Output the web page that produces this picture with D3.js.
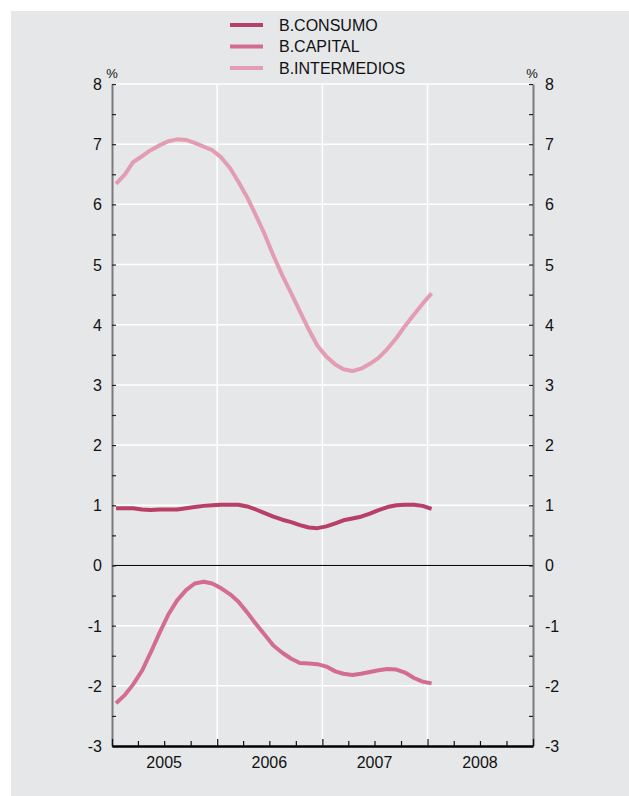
<!DOCTYPE html>
<html>
<head>
<meta charset="utf-8">
<script src="https://cdnjs.cloudflare.com/ajax/libs/d3/7.8.5/d3.min.js"></script>
<style>
  body { margin: 0; background: #ffffff; }
  text { font-family: "Liberation Sans", Arial, sans-serif; fill: #111; }
</style>
</head>
<body>
<script>
// data: monthly, Jan 2005 .. Jan 2008
var start_year = 2005;
var years = ["2005", "2006", "2007", "2008"];
var y_ticks = [8, 7, 6, 5, 4, 3, 2, 1, 0, -1, -2, -3];
var series_names = ["B.CONSUMO", "B.CAPITAL", "B.INTERMEDIOS"];
var series_colors = ["#b83f65", "#d36d90", "#e39db3"];

var consumo = [0.95, 0.95, 0.95, 0.93, 0.92, 0.93, 0.93, 0.93, 0.95, 0.97, 0.99, 1.00,
               1.01, 1.01, 1.01, 0.98, 0.93, 0.87, 0.81, 0.76, 0.72, 0.67, 0.63, 0.62,
               0.65, 0.70, 0.75, 0.78, 0.81, 0.86, 0.92, 0.97, 1.00, 1.01, 1.01, 0.99,
               0.94];
var capital = [-2.29, -2.15, -1.98, -1.75, -1.45, -1.12, -0.82, -0.58, -0.41, -0.30, -0.27, -0.30,
               -0.38, -0.48, -0.60, -0.78, -0.97, -1.15, -1.33, -1.45, -1.55, -1.62, -1.63, -1.64,
               -1.68, -1.76, -1.80, -1.82, -1.80, -1.77, -1.74, -1.72, -1.73, -1.78, -1.87, -1.93,
               -1.96];
var intermedios = [6.34, 6.50, 6.70, 6.80, 6.90, 6.98, 7.05, 7.08, 7.07, 7.02, 6.96, 6.90,
                   6.78, 6.60, 6.38, 6.12, 5.82, 5.50, 5.15, 4.82, 4.52, 4.22, 3.92, 3.65,
                   3.47, 3.34, 3.26, 3.23, 3.27, 3.35, 3.45, 3.60, 3.78, 3.98, 4.17, 4.35,
                   4.52];

var all_series = [consumo, capital, intermedios];

// SVG size:
var w_svg = 629;
var h_svg = 796;
// plot area (pixels)
var p_left = 112, p_right = 533, p_top = 84, p_bottom = 746;

var svg = d3.select("body").append("svg")
            .attr("width", w_svg)
            .attr("height", h_svg);

// background panel
svg.append("rect")
   .attr("x", 11).attr("y", 11)
   .attr("width", w_svg - 11).attr("height", h_svg - 11)
   .attr("fill", "#e6e7e9");

// scales
var xScale = d3.scaleTime()
               .domain([new Date(start_year, 0, 1), new Date(start_year + years.length, 0, 1)])
               .range([p_left, p_right]);
var yScale = d3.scaleLinear().domain([-3, 8]).range([p_bottom, p_top]);

// horizontal gridlines
svg.selectAll("line.hgrid")
   .data(y_ticks.filter(function(d) { return d > -3 && d != 0; }))
   .enter().append("line")
   .attr("x1", p_left).attr("x2", p_right)
   .attr("y1", function(d) { return yScale(d); })
   .attr("y2", function(d) { return yScale(d); })
   .attr("stroke", "#fff")
   .attr("stroke-width", 1.5);

// vertical gridlines at year boundaries
svg.selectAll("line.vgrid")
   .data(years.slice(1))
   .enter().append("line")
   .attr("x1", function(d) { return xScale(new Date(+d, 0, 1)); })
   .attr("x2", function(d) { return xScale(new Date(+d, 0, 1)); })
   .attr("y1", p_top).attr("y2", p_bottom)
   .attr("stroke", "#fff")
   .attr("stroke-width", 1.5);

// zero line
svg.append("line")
   .attr("x1", p_left).attr("x2", p_right)
   .attr("y1", yScale(0)).attr("y2", yScale(0))
   .attr("stroke", "#000").attr("stroke-width", 1);

// y axes (ticks every 0.5)
var half_ticks = d3.range(-3, 8.01, 0.5);
var y_left = d3.axisRight(yScale).tickValues(half_ticks).tickSize(4).tickSizeOuter(0).tickFormat("");
var g_left = svg.append("g").attr("transform", "translate(" + p_left + ",0)").call(y_left);
var y_right = d3.axisLeft(yScale).tickValues(half_ticks).tickSize(4).tickSizeOuter(0).tickFormat("");
var g_right = svg.append("g").attr("transform", "translate(" + p_right + ",0)").call(y_right);
[g_left, g_right].forEach(function(g) {
  g.select(".domain").attr("stroke", "#7a7a7a").attr("stroke-width", 2);
  g.selectAll(".tick line").attr("stroke", "#222").attr("stroke-width", 1.2);
});

// y tick labels
svg.selectAll("text.ylab_l")
   .data(y_ticks).enter().append("text")
   .attr("x", p_left - 10)
   .attr("y", function(d) { return yScale(d) + 6; })
   .attr("text-anchor", "end")
   .style("font-size", "16px")
   .text(function(d) { return d; });
svg.selectAll("text.ylab_r")
   .data(y_ticks).enter().append("text")
   .attr("x", p_right + 12)
   .attr("y", function(d) { return yScale(d) + 6; })
   .attr("text-anchor", "start")
   .style("font-size", "16px")
   .text(function(d) { return d; });

// % units
svg.append("text").attr("x", p_left).attr("y", p_top - 6)
   .attr("text-anchor", "middle").style("font-size", "13px").text("%");
svg.append("text").attr("x", p_right - 1).attr("y", p_top - 6)
   .attr("text-anchor", "middle").style("font-size", "13px").text("%");

// x axis: quarterly ticks, years bigger
var quarters = d3.timeMonth.range(new Date(start_year, 0, 1), new Date(start_year + years.length, 0, 2), 3);
var x_axis = d3.axisTop(xScale).tickValues(quarters).tickSize(5).tickSizeOuter(0).tickFormat("");
var g_x = svg.append("g").attr("transform", "translate(0," + p_bottom + ")").call(x_axis);
g_x.select(".domain").attr("stroke", "#000").attr("stroke-width", 2.5);
g_x.selectAll(".tick line")
   .attr("stroke", "#111")
   .attr("stroke-width", 1.2)
   .attr("y2", function(d) { return d.getMonth() == 0 ? -7 : -5; });

// year labels
svg.selectAll("text.year")
   .data(years).enter().append("text")
   .attr("x", function(d) { return xScale(new Date(+d, 6, 1)); })
   .attr("y", p_bottom + 22)
   .attr("text-anchor", "middle")
   .style("font-size", "16px")
   .text(function(d) { return d; });

// lines
var line = d3.line()
   .x(function(d, i) { return xScale(new Date(start_year, i, 15)); })
   .y(function(d) { return yScale(d); });

svg.selectAll("path.series")
   .data(all_series).enter().append("path")
   .attr("d", function(d) { return line(d); })
   .attr("fill", "none")
   .attr("stroke", function(d, i) { return series_colors[i]; })
   .attr("stroke-width", 4)
   .attr("stroke-linejoin", "round");

// legend
var legend = svg.selectAll("g.legend")
   .data(series_names).enter().append("g")
   .attr("transform", function(d, i) { return "translate(230," + (25 + i * 21.5) + ")"; });
legend.append("line")
   .attr("x1", 0).attr("x2", 33).attr("y1", 0).attr("y2", 0)
   .attr("stroke", function(d, i) { return series_colors[i]; })
   .attr("stroke-width", 4);
legend.append("text")
   .attr("x", 49).attr("y", 5.5)
   .style("font-size", "16px")
   .text(function(d) { return d; });
</script>
</body>
</html>
